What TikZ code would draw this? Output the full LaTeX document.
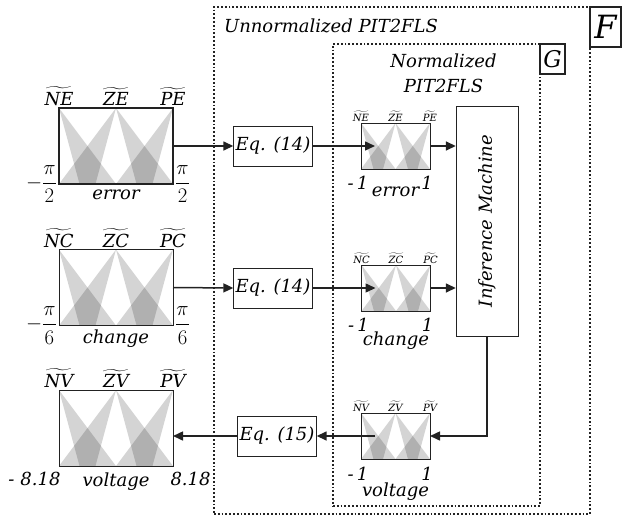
\documentclass[tikz,border=0pt]{standalone}
\usepackage{amsmath}
\usepackage{fontspec}
\setmainfont{DejaVu Serif}
\usetikzlibrary{arrows.meta, positioning, calc, backgrounds}
\definecolor{cink}{HTML}{222222}
\tikzset{
  every picture/.style={font=\fontsize{18}{22}\selectfont\itshape, line width=1.5pt},
  mfbox/.style={draw=cink, inner sep=0pt, outer sep=0pt},
  mfbig/.style={mfbox, minimum width=114pt, minimum height=76pt},
  mfsmall/.style={mfbox, minimum width=69pt, minimum height=46pt},
  eqbox/.style={draw=cink, minimum width=79pt, minimum height=40pt, inner sep=2pt},
  frame/.style={draw=cink, dotted, line width=1.8pt, inner sep=0pt, outer sep=0pt, anchor=north west},
  tag/.style={draw=cink, line width=1.8pt, inner sep=0pt, outer sep=0pt, anchor=north west},
  arrow/.style={-{Triangle[length=10pt, width=9pt]}, draw=cink, line width=1.5pt},
  fou/.style={fill=black, fill opacity=0.17},
  mflabel/.style={font=\fontsize{10}{12}\selectfont\itshape, inner sep=1pt},
  biglabel/.style={font=\fontsize{18}{22}\selectfont\itshape, inner sep=1pt},
  frac/.style={font=\fontsize{21}{24}\selectfont\itshape, inner sep=1pt},
}
% shaded footprints of the three sets inside a box node
\newcommand{\foufill}[1]{%
  \begin{pgfonlayer}{background}
  \begin{scope}
    \clip (#1.south west) rectangle (#1.north east);
    \foreach \c in {0,0.5,1}{
      \pgfmathsetmacro{\lin}{\c+0.18}
      \pgfmathsetmacro{\lout}{\c+0.5}
      \pgfmathsetmacro{\rin}{\c-0.18}
      \pgfmathsetmacro{\rout}{\c-0.5}
      \fill[fou] ($(#1.north west)!\c!(#1.north east)$) -- ($(#1.south west)!\lin!(#1.south east)$) -- ($(#1.south west)!\lout!(#1.south east)$) -- cycle;
      \fill[fou] ($(#1.north west)!\c!(#1.north east)$) -- ($(#1.south west)!\rin!(#1.south east)$) -- ($(#1.south west)!\rout!(#1.south east)$) -- cycle;
    }
  \end{scope}
  \end{pgfonlayer}}

\begin{document}
\begin{tikzpicture}[x=1pt, y=-1pt]
  \useasboundingbox (0,0) rectangle (623,519);
  % frames
  \node[frame, minimum width=376pt, minimum height=507pt] (unnorm) at (214,7) {};
  \node[tag, minimum width=31pt, minimum height=40pt, font=\fontsize{32}{32}\selectfont\itshape] (tagF) at (unnorm.north east) {F};
  \node[anchor=north west] (unnormTitle) at ([xshift=6pt, yshift=-8pt]unnorm.north west) {Unnormalized PIT2FLS};
  \node[frame, minimum width=207pt, minimum height=462pt] (norm) at (333,44) {};
  \node[tag, minimum width=25pt, minimum height=30pt, font=\fontsize{23}{23}\selectfont\itshape] (tagG) at (norm.north east) {G};
  \node[align=center, anchor=north] (normTitle) at ([xshift=7pt, yshift=-6pt]norm.north) {Normalized\\[3pt]PIT2FLS};

  % input and output sets
  \node[mfbig] (err) at (116,146) {};
  \foufill{err}
  \node[biglabel, above=1pt of err.north west] (errN) {$\widetilde{\textit{NE}}$};
  \node[biglabel, above=1pt of err.north] (errZ) {$\widetilde{\textit{ZE}}$};
  \node[biglabel, above=1pt of err.north east] (errP) {$\widetilde{\textit{PE}}$};
  \node[frac, left=1pt of err.south west] (errLo) {$-\dfrac{\pi}{2}$};
  \node[frac, right=1pt of err.south east] (errHi) {$\dfrac{\pi}{2}$};
  \node[below=2pt of err.south] (errName) {error};

  \node[mfbig] (chg) at (116,287.5) {};
  \foufill{chg}
  \node[biglabel, above=1pt of chg.north west] (chgN) {$\widetilde{\textit{NC}}$};
  \node[biglabel, above=1pt of chg.north] (chgZ) {$\widetilde{\textit{ZC}}$};
  \node[biglabel, above=1pt of chg.north east] (chgP) {$\widetilde{\textit{PC}}$};
  \node[frac, left=1pt of chg.south west] (chgLo) {$-\dfrac{\pi}{6}$};
  \node[frac, right=1pt of chg.south east] (chgHi) {$\dfrac{\pi}{6}$};
  \node[below=1pt of chg.south] (chgName) {change};

  \node[mfbig] (vol) at (116,428) {};
  \foufill{vol}
  \node[biglabel, above=1pt of vol.north west] (volN) {$\widetilde{\textit{NV}}$};
  \node[biglabel, above=1pt of vol.north] (volZ) {$\widetilde{\textit{ZV}}$};
  \node[biglabel, above=1pt of vol.north east] (volP) {$\widetilde{\textit{PV}}$};
  \node[below left=3pt and -5pt of vol.south west] (volLo) {-\,\,8.18};
  \node[below right=3pt and -6pt of vol.south east] (volHi) {8.18};
  \node[below=3pt of vol.south] (volName) {voltage};

  % equations
  \node[eqbox] (eq1) at (273,146) {Eq. (14)};
  \node[eqbox] (eq2) at (273,288) {Eq. (14)};
  \node[eqbox] (eq3) at (277,436) {Eq. (15)};

  % normalized sets
  \node[mfsmall] (nerr) at (395.5,146) {};
  \foufill{nerr}
  \node[mflabel, above=0pt of nerr.north west] (nerrN) {$\widetilde{\textit{NE}}$};
  \node[mflabel, above=0pt of nerr.north] (nerrZ) {$\widetilde{\textit{ZE}}$};
  \node[mflabel, above=0pt of nerr.north east] (nerrP) {$\widetilde{\textit{PE}}$};
  \node[below=4pt of nerr.south west, xshift=-3pt] (nerrLo) {-\,1};
  \node[below=4pt of nerr.south east, xshift=-3pt] (nerrHi) {1};
  \node[below=14pt of nerr.south] (nerrName) {error};

  \node[mfsmall] (nchg) at (396,288) {};
  \foufill{nchg}
  \node[mflabel, above=0pt of nchg.north west] (nchgN) {$\widetilde{\textit{NC}}$};
  \node[mflabel, above=0pt of nchg.north] (nchgZ) {$\widetilde{\textit{ZC}}$};
  \node[mflabel, above=0pt of nchg.north east] (nchgP) {$\widetilde{\textit{PC}}$};
  \node[below=4pt of nchg.south west, xshift=-3pt] (nchgLo) {-\,1};
  \node[below=4pt of nchg.south east, xshift=-3pt] (nchgHi) {1};
  \node[below=17pt of nchg.south] (nchgName) {change};

  \node[mfsmall] (nvol) at (395.5,436) {};
  \foufill{nvol}
  \node[mflabel, above=0pt of nvol.north west] (nvolN) {$\widetilde{\textit{NV}}$};
  \node[mflabel, above=0pt of nvol.north] (nvolZ) {$\widetilde{\textit{ZV}}$};
  \node[mflabel, above=0pt of nvol.north east] (nvolP) {$\widetilde{\textit{PV}}$};
  \node[below=5pt of nvol.south west, xshift=-3pt] (nvolLo) {-\,1};
  \node[below=5pt of nvol.south east, xshift=-3pt] (nvolHi) {1};
  \node[below=20pt of nvol.south] (nvolName) {voltage};

  \node[draw=cink, minimum width=62pt, minimum height=230pt, inner sep=0pt] (inf) at (487,221) {\rotatebox{90}{Inference Machine}};

  % connectors
  \draw[arrow] (err.east) -- (eq1.west);
  \draw[arrow] (eq1.east) -- ([xshift=14pt]nerr.west);
  \draw[arrow] (nerr.east) -- (nerr.east -| inf.west);
  \draw[arrow] (chg.east) -- (eq2.west);
  \draw[arrow] (eq2.east) -- ([xshift=14pt]nchg.west);
  \draw[arrow] (nchg.east) -- (nchg.east -| inf.west);
  \draw[arrow] (inf.south) |- (nvol.east);
  \draw[arrow] ([xshift=14pt]nvol.west) -- (eq3.east);
  \draw[arrow] (eq3.west) -- (eq3.west -| vol.east);
\end{tikzpicture}
\end{document}
